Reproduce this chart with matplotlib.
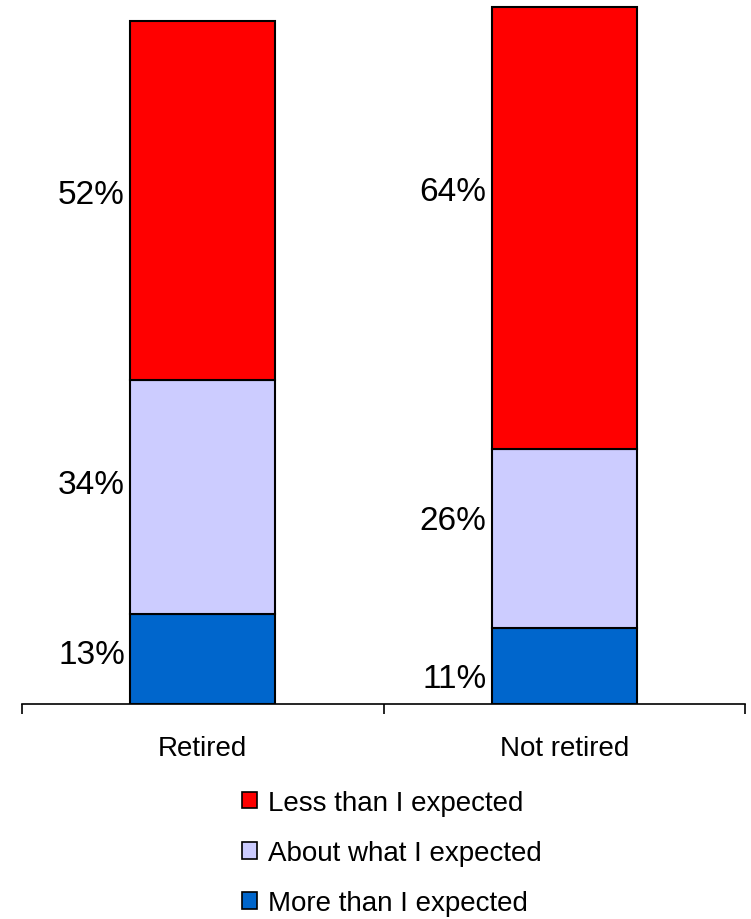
import matplotlib.pyplot as plt
from matplotlib.patches import Rectangle
import numpy as np

plt.rcParams['font.family'] = ['Liberation Sans', 'DejaVu Sans']

categories = ['Retired', 'Not retired']
series_names = ['More than I expected', 'About what I expected', 'Less than I expected']
more = [13, 11]
about = [34, 26]
less = [52, 64]
colors = ['#0066CC', '#CCCCFF', '#FF0000']

# label nudges (pixels, up positive) so the labels sit like in the original
nudge = [[5, 12, 6], [-12, 18, 36]]

fig = plt.figure(figsize=(7.51, 9.2), dpi=100)
ax = fig.add_axes([22/751, 1 - 705/920, (745 - 22)/751, 705/920])

x = np.arange(len(categories))
width = 0.4
bottom = np.zeros(len(categories))
for i, vals in enumerate([more, about, less]):
    ax.bar(x, vals, width, bottom=bottom, color=colors[i],
           edgecolor='black', linewidth=1.5, label=series_names[i], zorder=3)
    for j, v in enumerate(vals):
        ax.annotate(f'{v}%', xy=(x[j] - width/2, bottom[j] + v/2),
                    xytext=(-4, nudge[j][i]*0.72), textcoords='offset points',
                    ha='right', va='center', fontsize=24)
    bottom += np.array(vals)

ax.set_xlim(-0.5, 1.5)
ax.set_ylim(0, 705/6.9)
for s in ['left', 'right', 'top']:
    ax.spines[s].set_visible(False)
ax.spines['bottom'].set_linewidth(1.2)
ax.set_yticks([])
ax.set_xticks(x)
ax.set_xticklabels(categories, fontsize=20)
ax.tick_params(axis='x', which='major', length=0, pad=22)
ax.set_xticks([-0.5, 0.5, 1.5], minor=True)
ax.tick_params(axis='x', which='minor', length=7, width=1.2, direction='out')

handles = [Rectangle((0, 0), 1, 1, facecolor=c, edgecolor='black', linewidth=1.2)
           for c in colors[::-1]]
fig.legend(handles, series_names[::-1], loc='upper left',
           bbox_to_anchor=(228/751, 1 - 777/920), frameon=False, fontsize=20,
           borderpad=0, handlelength=0.55, handleheight=0.55, handletextpad=0.4,
           labelspacing=0.87)

fig.savefig('out.png', dpi=100)
